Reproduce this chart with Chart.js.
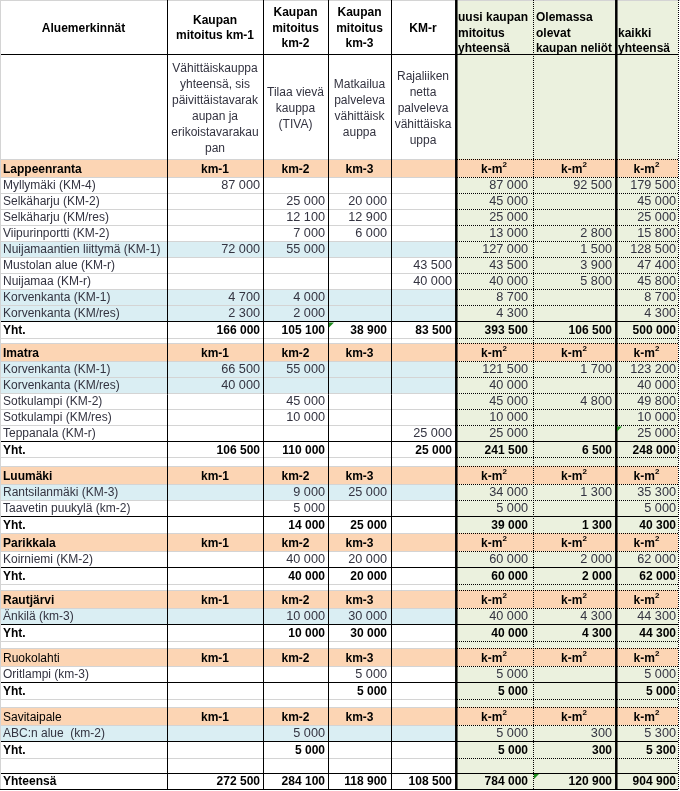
<!DOCTYPE html>
<html lang="fi">
<head>
<meta charset="utf-8">
<title>Kaupan mitoitus</title>
<script src="https://cdn.jsdelivr.net/npm/chart.js@4/dist/chart.umd.min.js"></script>
<style>
  html, body { margin: 0; padding: 0; background: #ffffff; overflow: hidden; }
  canvas { display: block; }
</style>
</head>
<body>
<canvas id="taulukko" width="680" height="791"></canvas>
<script>
// Sarakkeiden otsikot ja kuvaukset
const sarakeOtsikot = ['Aluemerkinnät', 'Kaupan\nmitoitus km-1', 'Kaupan\nmitoitus\nkm-2', 'Kaupan\nmitoitus\nkm-3', 'KM-r',
    'uusi kaupan\nmitoitus\nyhteensä', 'Olemassa\nolevat\nkaupan neliöt', 'kaikki\nyhteensä'];
const sarakeKuvaukset = ['', 'Vähittäiskauppa\nyhteensä, sis\npäivittäistavarak\naupan ja\nerikoistavarakau\npan',
    'Tilaa vievä\nkauppa\n(TIVA)', 'Matkailua\npalveleva\nvähittäisk\nauppa', 'Rajaliiken\nnetta\npalveleva\nvähittäiska\nuppa', '', '', ''];
const yksikot = ['km-1', 'km-2', 'km-3', '', 'k-m²', 'k-m²', 'k-m²'];

// Kunnat: alueet, arvot (km-1, km-2, km-3, KM-r, uusi yht., olemassa, kaikki) ja yhteensä-rivi
const lappeenrantaAlueet = ['Myllymäki (KM-4)', 'Selkäharju (KM-2)', 'Selkäharju (KM/res)', 'Viipurinportti (KM-2)',
    'Nuijamaantien liittymä (KM-1)', 'Mustolan alue (KM-r)', 'Nuijamaa (KM-r)', 'Korvenkanta (KM-1)', 'Korvenkanta (KM/res)'];
const lappeenrantaArvot = [
    [87000, null, null, null, 87000, 92500, 179500],
    [null, 25000, 20000, null, 45000, null, 45000],
    [null, 12100, 12900, null, 25000, null, 25000],
    [null, 7000, 6000, null, 13000, 2800, 15800],
    [72000, 55000, null, null, 127000, 1500, 128500],
    [null, null, null, 43500, 43500, 3900, 47400],
    [null, null, null, 40000, 40000, 5800, 45800],
    [4700, 4000, null, null, 8700, null, 8700],
    [2300, 2000, null, null, 4300, null, 4300]
];
const lappeenrantaYht = [166000, 105100, 38900, 83500, 393500, 106500, 500000];

const imatraAlueet = ['Korvenkanta (KM-1)', 'Korvenkanta (KM/res)', 'Sotkulampi (KM-2)', 'Sotkulampi (KM/res)', 'Teppanala (KM-r)'];
const imatraArvot = [
    [66500, 55000, null, null, 121500, 1700, 123200],
    [40000, null, null, null, 40000, null, 40000],
    [null, 45000, null, null, 45000, 4800, 49800],
    [null, 10000, null, null, 10000, null, 10000],
    [null, null, null, 25000, 25000, null, 25000]
];
const imatraYht = [106500, 110000, null, 25000, 241500, 6500, 248000];

const luumakiAlueet = ['Rantsilanmäki (KM-3)', 'Taavetin puukylä (km-2)'];
const luumakiArvot = [
    [null, 9000, 25000, null, 34000, 1300, 35300],
    [null, 5000, null, null, 5000, null, 5000]
];
const luumakiYht = [null, 14000, 25000, null, 39000, 1300, 40300];

const parikkalaAlueet = ['Koirniemi (KM-2)'];
const parikkalaArvot = [[null, 40000, 20000, null, 60000, 2000, 62000]];
const parikkalaYht = [null, 40000, 20000, null, 60000, 2000, 62000];

const rautjarviAlueet = ['Änkilä (km-3)'];
const rautjarviArvot = [[null, 10000, 30000, null, 40000, 4300, 44300]];
const rautjarviYht = [null, 10000, 30000, null, 40000, 4300, 44300];

const ruokolahtiAlueet = ['Oritlampi (km-3)'];
const ruokolahtiArvot = [[null, null, 5000, null, 5000, null, 5000]];
const ruokolahtiYht = [null, null, 5000, null, 5000, null, 5000];

const savitaipaleAlueet = ['ABC:n alue  (km-2)'];
const savitaipaleArvot = [[null, 5000, null, null, 5000, 300, 5300]];
const savitaipaleYht = [null, 5000, null, null, 5000, 300, 5300];

const kaikkiYhteensa = [272500, 284100, 118900, 108500, 784000, 120900, 904900];

const kunnat = [
    { nimi: 'Lappeenranta', alueet: lappeenrantaAlueet, arvot: lappeenrantaArvot, yht: lappeenrantaYht },
    { nimi: 'Imatra', alueet: imatraAlueet, arvot: imatraArvot, yht: imatraYht },
    { nimi: 'Luumäki', alueet: luumakiAlueet, arvot: luumakiArvot, yht: luumakiYht },
    { nimi: 'Parikkala', alueet: parikkalaAlueet, arvot: parikkalaArvot, yht: parikkalaYht },
    { nimi: 'Rautjärvi', alueet: rautjarviAlueet, arvot: rautjarviArvot, yht: rautjarviYht },
    { nimi: 'Ruokolahti', alueet: ruokolahtiAlueet, arvot: ruokolahtiArvot, yht: ruokolahtiYht },
    { nimi: 'Savitaipale', alueet: savitaipaleAlueet, arvot: savitaipaleArvot, yht: savitaipaleYht }
];

// --- Ulkoasu (ei dataa) ---
const sarakeRajat = [0, 167, 263, 328, 391, 455, 533, 615, 678];
const oikeaVali = [3, 3, 3, 4, 3, 5, 3, 2];
const korkeudet = { ots1: 55, ots2: 104, kunta: 18.5, rivi: 16, yht: 16.5, loppu: 16 };
const valiRivit = [5, 8, 0, 6, 7, 8, 15];          // tyhjä rivi kunnan jälkeen
const korostetut = { 'Lappeenranta': [4, 7, 8], 'Imatra': [0, 1], 'Luumäki': [0], 'Rautjärvi': [0], 'Savitaipale': [0] };
const ohutOtsikko = ['Ruokolahti', 'Savitaipale'];
const virheMerkit = [['Lappeenranta', 'Yht.', 3], ['Imatra', 'Teppanala (KM-r)', 7], ['', 'Yhteensä', 6]];
const varit = { oranssi: '#FCD5B4', sininen: '#DAEEF3', vihrea: '#EBF1DE', ruudukko: '#D4D4D4', teksti: '#333340', merkki: '#1E8C1E' };
const fontti = '"Liberation Sans", Arial, sans-serif';

function muotoile(n) {
    if (n === null || n === undefined) return '';
    return String(n).replace(/\B(?=(\d{3})+(?!\d))/g, ' ');
}

// Rivilista
const rivit = [];
rivit.push({ tyyppi: 'ots1', k: korkeudet.ots1 });
rivit.push({ tyyppi: 'ots2', k: korkeudet.ots2 });
kunnat.forEach((kunta, i) => {
    rivit.push({ tyyppi: 'kunta', kunta: kunta.nimi, nimi: kunta.nimi, k: korkeudet.kunta });
    kunta.alueet.forEach((alue, j) => {
        const sin = (korostetut[kunta.nimi] || []).includes(j);
        rivit.push({ tyyppi: 'rivi', kunta: kunta.nimi, nimi: alue, arvot: kunta.arvot[j], sininen: sin, k: korkeudet.rivi });
    });
    rivit.push({ tyyppi: 'yht', kunta: kunta.nimi, nimi: 'Yht.', arvot: kunta.yht, k: korkeudet.yht });
    if (valiRivit[i]) rivit.push({ tyyppi: 'tyhja', k: valiRivit[i] });
});
rivit.push({ tyyppi: 'loppu', kunta: '', nimi: 'Yhteensä', arvot: kaikkiYhteensa, k: korkeudet.loppu });

let yy = 0;
rivit.forEach(r => { r.y0 = yy; yy += r.k; r.y1 = yy; });

const taulukkoPiirto = {
    id: 'taulukkoPiirto',
    afterDraw(chart) {
        const ctx = chart.ctx;
        const sx = chart.scales.x, sy = chart.scales.y;
        const px = v => sx.getPixelForValue(v);
        const py = v => sy.getPixelForValue(v);
        const kirjoita = (s, x, y, align, paino, koko, vari, maxW) => {
            ctx.font = `${paino} ${koko}px ${fontti}`;
            ctx.textAlign = align;
            ctx.textBaseline = 'alphabetic';
            ctx.fillStyle = vari;
            if (maxW) ctx.fillText(s, x, y, maxW);
            else ctx.fillText(s, x, y);
        };
        ctx.save();

        // Solujen taustat
        rivit.forEach(r => {
            for (let c = 0; c < 8; c++) {
                let vari = c >= 5 ? varit.vihrea : '#ffffff';
                if (r.tyyppi === 'kunta') vari = varit.oranssi;
                else if (r.tyyppi === 'rivi' && r.sininen && c < 5) vari = varit.sininen;
                ctx.fillStyle = vari;
                ctx.fillRect(px(sarakeRajat[c]), py(r.y0), px(sarakeRajat[c + 1]) - px(sarakeRajat[c]), py(r.y1) - py(r.y0));
            }
        });

        // Vaakaviivat
        const viiva = (x0, x1, y, vari, katko) => {
            ctx.beginPath();
            ctx.strokeStyle = vari;
            ctx.lineWidth = 1;
            ctx.setLineDash(katko ? [1, 1] : []);
            const yp = Math.round(py(y)) + 0.5;
            ctx.moveTo(px(x0), yp);
            ctx.lineTo(px(x1), yp);
            ctx.stroke();
        };
        viiva(0, 680, -0.5, varit.ruudukko, false);
        rivit.forEach((r, i) => {
            const seur = rivit[i + 1];
            const musta = r.tyyppi === 'ots1' || r.tyyppi === 'loppu' ||
                (seur && (seur.tyyppi === 'yht' || seur.tyyppi === 'loppu'));
            if (musta) {
                viiva(0, 678, r.y1 - 0.5, '#000000', false);
            } else {
                viiva(0, 455, r.y1 - 0.5, varit.ruudukko, false);
                viiva(455, 678, r.y1 - 0.5, '#000000', true);
            }
        });

        // Pystyviivat
        const ala = rivit[rivit.length - 1].y1;
        const pysty = (x, leveys, katko) => {
            ctx.beginPath();
            ctx.strokeStyle = '#000000';
            ctx.lineWidth = leveys;
            ctx.setLineDash(katko ? [1, 1] : []);
            const xp = leveys % 2 === 1 ? Math.round(px(x)) + 0.5 : px(x);
            ctx.moveTo(xp, py(0));
            ctx.lineTo(xp, py(ala));
            ctx.stroke();
        };
        ctx.beginPath();
        ctx.strokeStyle = varit.ruudukko; ctx.lineWidth = 1; ctx.setLineDash([]);
        ctx.moveTo(0.5, 0); ctx.lineTo(0.5, py(ala)); ctx.stroke();
        pysty(167, 1, false);
        pysty(263, 1, false);
        pysty(328, 1, false);
        pysty(391, 1, false);
        pysty(456.3, 2.5, false);
        pysty(533, 1, true);
        pysty(616.3, 2.5, false);
        pysty(678, 1, true);
        ctx.setLineDash([]);

        // Tekstit
        const keski = c => (px(sarakeRajat[c]) + px(sarakeRajat[c + 1])) / 2;
        const oikea = c => px(sarakeRajat[c + 1]) - oikeaVali[c];
        rivit.forEach(r => {
            const cy = (py(r.y0) + py(r.y1)) / 2;
            if (r.tyyppi === 'ots1') {
                sarakeOtsikot.forEach((t, c) => {
                    const rivitT = t.split('\n');
                    if (c >= 5) {
                        const maxW = px(sarakeRajat[c + 1]) - px(sarakeRajat[c]) - 6;
                        rivitT.forEach((s, k) => {
                            const y = py(r.y0) + 48 - (rivitT.length - 1 - k) * 15.5;
                            kirjoita(s, px(sarakeRajat[c]) + 3, y + 4, 'left', 'bold', 12, '#000000', maxW);
                        });
                    } else {
                        rivitT.forEach((s, k) => {
                            const y = cy + (k - (rivitT.length - 1) / 2) * 15.5;
                            kirjoita(s, keski(c), y + 4, 'center', 'bold', 12, '#000000');
                        });
                    }
                });
            } else if (r.tyyppi === 'ots2') {
                sarakeKuvaukset.forEach((t, c) => {
                    if (!t) return;
                    const rivitT = t.split('\n');
                    rivitT.forEach((s, k) => {
                        const y = cy + 1 + (k - (rivitT.length - 1) / 2) * 16;
                        kirjoita(s, keski(c), y + 4, 'center', 'normal', 12, varit.teksti);
                    });
                });
            } else if (r.tyyppi === 'kunta') {
                const paino = ohutOtsikko.includes(r.nimi) ? 'normal' : 'bold';
                kirjoita(r.nimi, px(0) + 3, cy + 4.5, 'left', paino, 12, '#000000');
                yksikot.forEach((u, j) => {
                    const c = j + 1;
                    if (!u) return;
                    if (u.includes('²')) {
                        const perus = u.replace('²', '');
                        ctx.font = `bold 12px ${fontti}`;
                        const w1 = ctx.measureText(perus).width;
                        ctx.font = `bold 8px ${fontti}`;
                        const w2 = ctx.measureText('2').width;
                        const x0 = keski(c) - (w1 + w2) / 2;
                        kirjoita(perus, x0, cy + 4.5, 'left', 'bold', 12, '#000000');
                        kirjoita('2', x0 + w1, cy - 1, 'left', 'bold', 8, '#000000');
                    } else {
                        kirjoita(u, keski(c), cy + 4.5, 'center', 'bold', 12, '#000000');
                    }
                });
            } else if (r.tyyppi === 'rivi') {
                kirjoita(r.nimi, px(0) + 3, cy + 3.8, 'left', 'normal', 12, varit.teksti);
                r.arvot.forEach((v, j) => {
                    if (v === null) return;
                    kirjoita(muotoile(v), oikea(j + 1), cy + 3.8, 'right', 'normal', 12.7, varit.teksti);
                });
            } else if (r.tyyppi === 'yht' || r.tyyppi === 'loppu') {
                kirjoita(r.nimi, px(0) + 3, cy + 4, 'left', 'bold', 12, '#000000');
                r.arvot.forEach((v, j) => {
                    if (v === null) return;
                    kirjoita(muotoile(v), oikea(j + 1), cy + 4, 'right', 'bold', 12, '#000000');
                });
            }
        });

        // Excelin vihreät virhemerkit solun vasemmassa yläkulmassa
        virheMerkit.forEach(([kunta, nimi, c]) => {
            const r = rivit.find(q => q.kunta === kunta && q.nimi === nimi);
            if (!r) return;
            const x = px(sarakeRajat[c]) + (c === 7 ? 2 : 1);
            const y = py(r.y0) + 1;
            ctx.beginPath();
            ctx.fillStyle = varit.merkki;
            ctx.moveTo(x, y);
            ctx.lineTo(x + 5, y);
            ctx.lineTo(x, y + 5);
            ctx.closePath();
            ctx.fill();
        });

        ctx.restore();
    }
};

const kanvas = document.getElementById('taulukko');
new Chart(kanvas, {
    type: 'scatter',
    data: { datasets: [] },
    options: {
        responsive: false,
        animation: false,
        events: [],
        layout: { padding: 0 },
        plugins: {
            legend: { display: false },
            tooltip: { enabled: false }
        },
        scales: {
            x: { type: 'linear', display: false, min: 0, max: 680 },
            y: { type: 'linear', display: false, min: 0, max: 791, reverse: true }
        }
    },
    plugins: [taulukkoPiirto]
});
</script>
</body>
</html>
